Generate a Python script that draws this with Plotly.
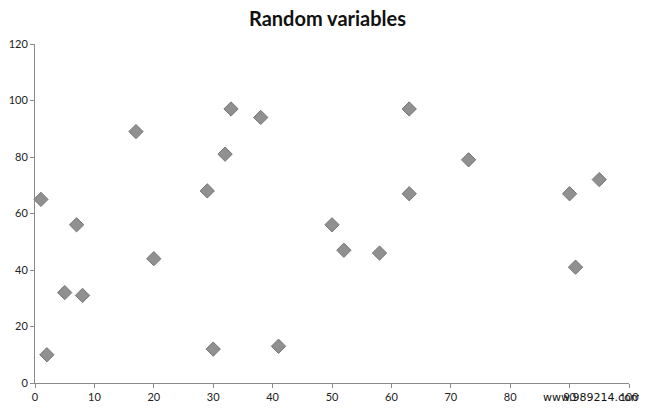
import plotly.graph_objects as go

x_vals = [1, 2, 5, 7, 8, 17, 20, 29, 30, 32, 33, 38, 41, 50, 52, 58, 63, 63, 73, 90, 91, 95]
y_vals = [65, 10, 32, 56, 31, 89, 44, 68, 12, 81, 97, 94, 13, 56, 47, 46, 97, 67, 79, 67, 41, 72]
x_ticks = [0, 10, 20, 30, 40, 50, 60, 70, 80, 90, 100]
y_ticks = [0, 20, 40, 60, 80, 100, 120]

fig = go.Figure()
fig.add_trace(go.Scatter(
    x=x_vals, y=y_vals, mode="markers",
    marker=dict(symbol="diamond", size=11, color="#909090",
                line=dict(color="#767676", width=1)),
    cliponaxis=False, showlegend=False,
))

axis_common = dict(
    showline=True, linecolor="#8a8a8a", linewidth=1,
    ticks="outside", ticklen=4, tickcolor="#8a8a8a",
    showgrid=False, zeroline=False, automargin=False,
    tickfont=dict(family="Lato, Open Sans, sans-serif", size=11, color="#222"),
)

fig.update_layout(
    width=639, height=400,
    paper_bgcolor="white", plot_bgcolor="white",
    margin=dict(l=27, r=18, t=36, b=25),
    title=dict(text="<b>Random variables</b>", x=0.5, xanchor="center",
               y=0.972, yanchor="middle",
               font=dict(family="Lato, Open Sans, sans-serif", size=20, color="#111")),
    xaxis=dict(range=[0, 100], tickvals=x_ticks, **axis_common),
    yaxis=dict(range=[0, 120], tickvals=y_ticks, **axis_common),
    annotations=[dict(text="www.989214.com", xref="paper", yref="paper",
                      x=1.0, y=0, xanchor="right", yanchor="middle", yshift=-14, xshift=14,
                      showarrow=False,
                      font=dict(family="DejaVu Sans, sans-serif", size=11, color="#111"))],
)

fig.write_html("out.html")
